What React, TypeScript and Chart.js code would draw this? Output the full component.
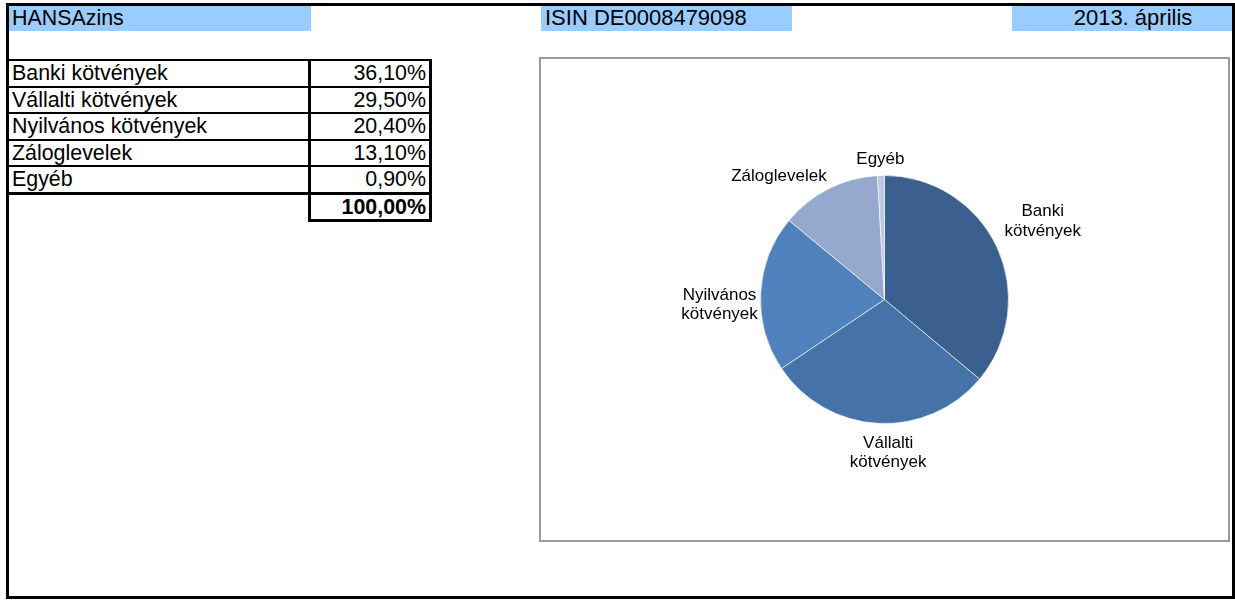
import React, { useEffect, useRef } from "react";
import { Chart, registerables } from "chart.js";

Chart.register(...registerables);

const fundName = "HANSAzins";
const isinText = "ISIN DE0008479098";
const dateText = "2013. április";
const categories = ["Banki kötvények", "Vállalti kötvények", "Nyilvános kötvények", "Záloglevelek", "Egyéb"];
const values = [36.1, 29.5, 20.4, 13.1, 0.9];
const totalValue = 100.0;
const sliceColors = ["#3B5F8F", "#4572A7", "#4F81BD", "#95A8CE", "#B9C9E4"];

const FONT = '"Liberation Sans", Arial, Helvetica, sans-serif';
const fmt = (v: number) => v.toFixed(2).replace(".", ",") + "%";

const labelPlugin = {
  id: "outerLabels",
  afterDatasetsDraw(chart: any, _args: any, opts: any) {
    const ctx = chart.ctx;
    const meta = chart.getDatasetMeta(0);
    ctx.save();
    ctx.font = `${opts.size}px ${FONT}`;
    ctx.fillStyle = opts.color;
    ctx.textAlign = "center";
    ctx.textBaseline = "middle";
    meta.data.forEach((arc: any, i: number) => {
      const p = arc.getProps(["x", "y", "startAngle", "endAngle", "outerRadius"], true);
      const mid = (p.startAngle + p.endAngle) / 2;
      const dx = Math.cos(mid);
      const dy = Math.sin(mid);
      const lines: string[] = chart.data.labels[i].split(" ");
      const w = Math.max(...lines.map((l: string) => ctx.measureText(l).width));
      const lh = opts.lineHeight;
      const h = lines.length * lh;
      const dist = p.outerRadius + opts.gap + (Math.abs(dx) * w) / 2 + (Math.abs(dy) * h) / 2;
      const n = opts.nudges[i] || [0, 0];
      const cx = p.x + dx * dist + n[0];
      const cy = p.y + dy * dist + n[1];
      lines.forEach((l: string, j: number) => ctx.fillText(l, cx, cy - h / 2 + lh * (j + 0.5)));
    });
    ctx.restore();
  },
};

function PieChart() {
  const ref = useRef<HTMLCanvasElement>(null);
  useEffect(() => {
    if (!ref.current) return;
    const chart = new Chart(ref.current, {
      type: "pie",
      data: {
        labels: categories,
        datasets: [
          {
            data: values,
            backgroundColor: sliceColors,
            borderColor: "rgba(255,255,255,0.6)",
            borderWidth: 1,
            hoverOffset: 0,
          },
        ],
      },
      options: {
        animation: false,
        responsive: false,
        maintainAspectRatio: false,
        radius: 124,
        events: [],
        plugins: {
          legend: { display: false },
          tooltip: { enabled: false },
          outerLabels: {
            size: 17,
            color: "#000",
            lineHeight: 19.5,
            gap: 11,
            nudges: [[-3, -3], [12, -3], [9, 14], [-31, 24], [0, 5]],
          },
        } as any,
      } as any,
      plugins: [labelPlugin],
    });
    return () => chart.destroy();
  }, []);
  return <canvas ref={ref} width={687} height={481} style={{ display: "block", width: 687, height: 481 }} />;
}

const abs = (l: number, t: number, w: number, h: number, extra: any = {}) => ({
  position: "absolute" as const,
  left: l,
  top: t,
  width: w,
  height: h,
  ...extra,
});

export default function App() {
  useEffect(() => {
    document.body.style.margin = "0";
  }, []);
  const rowTops = [59, 86, 112, 139, 165, 192];
  const textStyle = { fontFamily: FONT, fontSize: 21.4, lineHeight: "26px", color: "#000", whiteSpace: "nowrap" as const };
  return (
    <div style={{ position: "absolute", left: 0, top: 0, width: 1235, height: 601, background: "#fff", overflow: "hidden" }}>
      {/* outer frame */}
      <div style={abs(6, 3, 1229, 596, { border: "3px solid #000", boxSizing: "border-box" })} />
      {/* headers */}
      <div style={abs(9, 6, 302, 25, { background: "#99CCFF" })} />
      <div style={abs(12, 5, 290, 26, textStyle)}>{fundName}</div>
      <div style={abs(541, 6, 251, 25, { background: "#99CCFF" })} />
      <div style={abs(545, 5, 245, 26, { ...textStyle, fontSize: 22 })}>{isinText}</div>
      <div style={abs(1012, 6, 220, 25, { background: "#99CCFF" })} />
      <div style={abs(1033, 5, 200, 26, { ...textStyle, fontSize: 22, textAlign: "center" })}>{dateText}</div>
      {/* table lines */}
      {rowTops.map((t, i) => (
        <div key={"h" + i} style={abs(9, t, 422, i === 5 ? 3 : 2, { background: "#000" })} />
      ))}
      <div style={abs(308, 59, 3, 163, { background: "#000" })} />
      <div style={abs(429, 59, 3, 163, { background: "#000" })} />
      <div style={abs(308, 219, 124, 3, { background: "#000" })} />
      {/* table text */}
      {categories.map((c, i) => (
        <React.Fragment key={c}>
          <div style={abs(12, rowTops[i] + 1, 290, 26, textStyle)}>{c}</div>
          <div style={abs(312, rowTops[i] + 1, 114, 26, { ...textStyle, textAlign: "right" })}>{fmt(values[i])}</div>
        </React.Fragment>
      ))}
      <div style={abs(312, 194, 114, 26, { ...textStyle, textAlign: "right", fontWeight: "bold" })}>{fmt(totalValue)}</div>
      {/* chart box */}
      <div style={abs(539, 57, 691, 485, { border: "2px solid #9a9a9a", boxSizing: "border-box", background: "#fff" })}>
        <PieChart />
      </div>
    </div>
  );
}
